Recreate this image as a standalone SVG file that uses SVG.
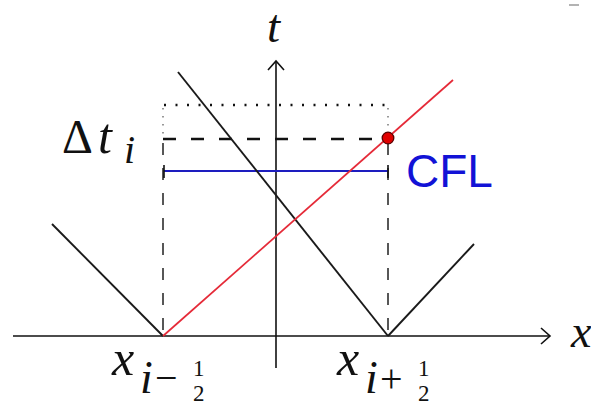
<svg xmlns="http://www.w3.org/2000/svg" width="591" height="406" viewBox="0 0 591 406">
<style>
.ax{stroke:#111;stroke-width:1.6;fill:none}
.blk{stroke:#1a1a1a;stroke-width:1.9;fill:none}
.red{stroke:#e52a38;stroke-width:1.7;fill:none}
.blue{stroke:#1d1dbf;stroke-width:2.2;fill:none}
.vdash{stroke:#111;stroke-width:1.4;stroke-dasharray:12 13;fill:none}
.hdash{stroke:#111;stroke-width:2.6;stroke-dasharray:13 15;fill:none}
.dot{stroke:#111;stroke-width:2.4;stroke-dasharray:2 9.5;fill:none}
.vdot{stroke:#555;stroke-width:1.2;stroke-dasharray:1.5 6.5;fill:none}
.m{font-family:"Liberation Serif","Times New Roman",serif;font-style:italic;fill:#111}
.r{font-family:"Liberation Serif","Times New Roman",serif;fill:#111}
.cfl{font-family:"Liberation Sans",Arial,sans-serif;fill:#1212d6}
</style>
<rect width="591" height="406" fill="#fff"/>
<g id="axes">
<line class="ax" x1="13" y1="336" x2="549" y2="336"/>
<polyline class="ax" points="541,328 550,336 541,344"/>
<line class="ax" x1="276" y1="368" x2="276" y2="62"/>
<polyline class="ax" points="268,70 276,61 284,70"/>
</g>
<g id="guides">
<line class="dot" x1="164" y1="105" x2="390" y2="105"/>
<line class="vdot" x1="163" y1="108" x2="163" y2="134"/>
<line class="vdot" x1="388" y1="108" x2="388" y2="134"/>
<line class="hdash" x1="163" y1="139" x2="388" y2="139"/>
<line class="vdash" x1="163" y1="143" x2="163" y2="336"/>
<line class="vdash" x1="388" y1="143" x2="388" y2="336"/>
<line class="blue" x1="164" y1="171" x2="388" y2="171"/>
<line class="ax" x1="164" y1="165" x2="164" y2="178" stroke-width="1.4"/>
<line class="ax" x1="388" y1="165" x2="388" y2="178" stroke-width="1.4"/>
</g>
<g id="characteristics">
<line class="blk" x1="52" y1="224" x2="163" y2="336"/>
<line class="blk" x1="178" y1="72" x2="388" y2="336"/>
<line class="blk" x1="388" y1="336" x2="474" y2="244"/>
<line class="red" x1="163" y1="336" x2="453" y2="80"/>
<circle cx="388" cy="138" r="5.8" fill="#e00000" stroke="#5a0000" stroke-width="1.3"/>
</g>
<g id="labels">
<text class="m" x="267" y="42" font-size="47">t</text>
<text class="r" x="62" y="153" font-size="48">Δ</text>
<text class="m" x="98" y="153" font-size="50">t</text>
<text class="m" x="124" y="163" font-size="40">i</text>
<text class="cfl" x="406" y="187" font-size="46">CFL</text>
<text class="m" x="571" y="347" font-size="46">x</text>
<text class="m" x="112" y="375" font-size="50">x</text>
<text class="m" x="140" y="393" font-size="46">i</text>
<text class="r" x="155" y="391" font-size="40">−</text>
<text class="r" x="193" y="376" font-size="23">1</text>
<text class="r" x="193" y="400.5" font-size="23">2</text>
<text class="m" x="337" y="375" font-size="50">x</text>
<text class="m" x="365" y="393" font-size="46">i</text>
<text class="r" x="380" y="392" font-size="40">+</text>
<text class="r" x="418" y="376" font-size="23">1</text>
<text class="r" x="418" y="400.5" font-size="23">2</text>
</g>
<line x1="569" y1="5" x2="579" y2="5" stroke="#9a9a9a" stroke-width="1.5"/>
</svg>
